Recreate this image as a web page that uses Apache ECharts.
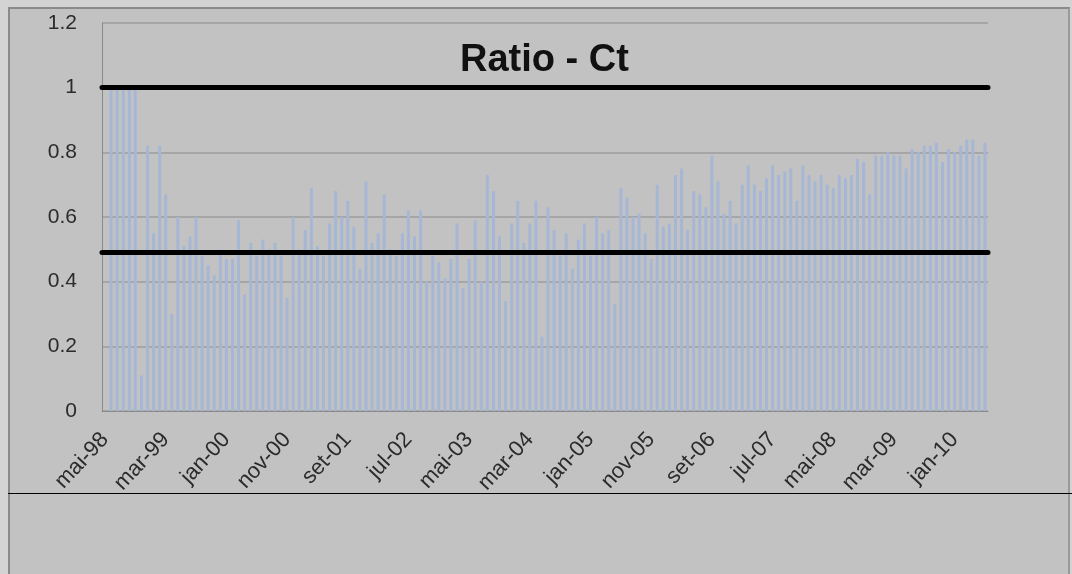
<!DOCTYPE html>
<html>
<head>
<meta charset="utf-8">
<script src="https://cdn.jsdelivr.net/npm/echarts@6/dist/echarts.min.js"></script>
<style>
  html, body { margin: 0; padding: 0; background: #d3d3d3; }
  .frame {
    position: absolute; left: 8px; top: 7px; width: 1058px; height: 580px;
    background: #c2c2c2; border-left: 2px solid #8a8a8a; border-top: 2px solid #8a8a8a; border-right: 2px solid #9a9a9a;
  }
  .cut { position: absolute; left: 8px; top: 493px; width: 1064px; height: 1px; background: #000; }
  #chart { position: absolute; left: 0; top: 0; width: 1072px; height: 574px; }
</style>
</head>
<body>
<div class="frame"></div>
<div id="chart"></div>
<div class="cut"></div>
<script>
// month labels (Portuguese), first category is mai-98
const monthNames = ['jan', 'fev', 'mar', 'abr', 'mai', 'jun', 'jul', 'ago', 'set', 'out', 'nov', 'dez']
const startYear = 1998
const startMonth = 4
const monthCount = 146

// Ratio - Ct values (first slot is empty)
const ratio = [
  null,
  1.00, 1.00, 1.00, 1.00, 1.00, 0.11, 0.82, 0.55, 0.82, 0.67,
  0.30, 0.60, 0.51, 0.54, 0.60, 0.48, 0.45, 0.42, 0.50, 0.47,
  0.47, 0.59, 0.36, 0.52, 0.48, 0.53, 0.50, 0.52, 0.48, 0.35,
  0.60, 0.50, 0.56, 0.69, 0.51, 0.48, 0.58, 0.68, 0.60, 0.65,
  0.57, 0.44, 0.71, 0.52, 0.55, 0.67, 0.50, 0.48, 0.55, 0.62,
  0.54, 0.62, 0.40, 0.48, 0.46, 0.41, 0.47, 0.58, 0.38, 0.47,
  0.59, 0.40, 0.73, 0.68, 0.54, 0.34, 0.58, 0.65, 0.52, 0.58,
  0.65, 0.23, 0.63, 0.56, 0.48, 0.55, 0.44, 0.53, 0.58, 0.48,
  0.60, 0.55, 0.56, 0.33, 0.69, 0.66, 0.60, 0.61, 0.55, 0.47,
  0.70, 0.57, 0.58, 0.73, 0.75, 0.56, 0.68, 0.67, 0.63, 0.79,
  0.71, 0.61, 0.65, 0.58, 0.70, 0.76, 0.70, 0.68, 0.72, 0.76,
  0.73, 0.74, 0.75, 0.65, 0.76, 0.73, 0.71, 0.73, 0.70, 0.69,
  0.73, 0.72, 0.73, 0.78, 0.77, 0.67, 0.79, 0.79, 0.80, 0.79,
  0.79, 0.75, 0.81, 0.80, 0.82, 0.82, 0.83, 0.77, 0.81, 0.80,
  0.82, 0.84, 0.84, 0.79, 0.83
]

// the two thick reference lines
const upperLimit = 1.0
const lowerLimit = 0.49

const yMax = 1.2
const yStep = 0.2

let months = []
for (let i = 0; i < monthCount; i++) {
  let m = (startMonth + i) % 12
  let y = startYear + Math.floor((startMonth + i) / 12)
  months.push(monthNames[m] + '-' + String(y % 100).padStart(2, '0'))
}

let chart = echarts.init(document.getElementById('chart'), null, {renderer: 'canvas'})
let option = {
  animation: false,
  backgroundColor: 'transparent',
  textStyle: {fontFamily: 'Liberation Sans, Arial, sans-serif'},
  title: {
    text: 'Ratio - Ct',
    left: 460,
    top: 42,
    padding: 0,
    textStyle: {fontSize: 38, fontWeight: 'bold', color: '#111', fontFamily: 'Liberation Sans, Arial, sans-serif'}
  },
  grid: {left: 102, top: 23, width: 886, height: 388},
  xAxis: {
    type: 'category',
    data: months,
    boundaryGap: true,
    axisLine: {lineStyle: {color: '#8a8a8a', width: 1}},
    axisTick: {interval: 9, length: 5, lineStyle: {color: '#8a8a8a'}},
    axisLabel: {interval: 9, rotate: 47, margin: 25, fontSize: 22, color: '#2b2b2b'}
  },
  yAxis: {
    type: 'value',
    min: 0,
    max: yMax,
    interval: yStep,
    axisLine: {show: true, lineStyle: {color: '#8a8a8a'}},
    axisTick: {show: false},
    axisLabel: {margin: 25, fontSize: 21, color: '#2b2b2b'},
    splitLine: {lineStyle: {color: '#9c9c9c', width: 1.5}}
  },
  series: [
    {
      type: 'bar',
      data: ratio,
      barWidth: 3,
      itemStyle: {color: '#a6b7d6'},
      markLine: {
        silent: true,
        symbol: 'none',
        label: {show: false},
        lineStyle: {color: '#000', width: 5, type: 'solid', cap: 'round'},
        data: [{yAxis: upperLimit}, {yAxis: lowerLimit}]
      }
    }
  ]
}
chart.setOption(option)
</script>
</body>
</html>
